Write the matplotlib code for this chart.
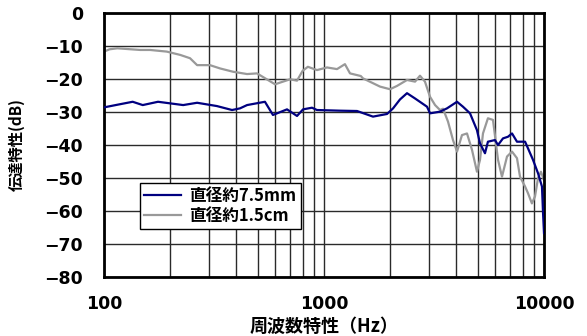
import matplotlib
matplotlib.use("Agg")
import matplotlib.pyplot as plt
from matplotlib.ticker import FixedLocator, NullFormatter

plt.rcParams['font.family'] = ['Noto Sans CJK JP', 'DejaVu Sans']

# 直径約7.5mm
freq_a = [100, 115, 135, 150, 176, 229, 265, 326, 382, 415, 447, 539, 586, 679, 754,
          803, 882, 929, 1183, 1413, 1670, 1934, 2060, 2215, 2384, 2593, 2940, 3034,
          3367, 3622, 4024, 4283, 4610, 4958, 5118, 5392, 5561, 5984, 6180, 6510,
          6858, 7156, 7537, 8203, 8457, 8913, 9397, 9790, 9900, 10000]
db_a = [-28.6, -27.8, -26.9, -27.9, -26.9, -27.9, -27.2, -28.2, -29.4, -28.9, -27.9,
        -26.9, -30.9, -29.2, -31.2, -29.2, -28.7, -29.4, -29.6, -29.7, -31.4, -30.6,
        -28.9, -26.2, -24.3, -25.9, -28.4, -30.4, -29.9, -28.9, -26.9, -28.4, -30.4,
        -35.5, -39.5, -42.5, -39.0, -38.5, -40.0, -38.0, -37.5, -36.5, -39.0, -39.0,
        -41.0, -44.5, -48.6, -52.6, -60.6, -66.7]

# 直径約1.5cm
freq_b = [100, 106, 115, 146, 162, 193, 222, 246, 265, 303, 337, 386, 447, 496, 599,
          700, 754, 800, 845, 929, 1032, 1146, 1245, 1313, 1470, 1503, 1797, 1995, 2147,
          2384, 2593, 2731, 2877, 3034, 3198, 3367, 3475, 3661, 3858, 4024, 4238,
          4467, 4708, 4958, 5118, 5280, 5561, 5863, 6180, 6442, 6790, 7156, 7537,
          7780, 8203, 8457, 8810, 9100, 9397, 9686, 10000]
db_b = [-11.7, -11.0, -10.7, -11.2, -11.2, -11.7, -12.7, -13.7, -15.8, -15.8, -16.8,
        -17.8, -18.5, -18.3, -21.6, -20.1, -20.5, -17.5, -16.3, -17.3, -16.5, -17.0,
        -15.5, -18.3, -19.1, -19.8, -22.3, -23.1, -22.1, -20.3, -20.8, -19.0, -20.8,
        -25.4, -27.9, -29.4, -29.0, -32.9, -38.5, -42.0, -37.0, -36.5, -41.5, -48.1,
        -44.5, -36.5, -31.9, -32.4, -44.5, -49.6, -43.5, -42.0, -44.0, -49.6, -52.6,
        -54.6, -57.7, -55.6, -50.0, -48.1, -50.6]

labels = ['直径約7.5mm', '直径約1.5cm']
xticks = [100, 1000, 10000]
xticklabels = ['100', '1000', '10000']
yticks = [0, -10, -20, -30, -40, -50, -60, -70, -80]
yticklabels = ['0', '−10', '−20', '−30', '−40', '−50', '−60', '−70', '−80']
minor_x = [m * d for d in (100, 1000) for m in range(2, 10)]

fig = plt.figure(figsize=(5.87, 3.36), dpi=100)
ax = fig.add_axes([104/587, 59/336, 440/587, 264/336])

ax.plot(freq_a, db_a, color='#000080', lw=1.6, label=labels[0], zorder=3)
ax.plot(freq_b, db_b, color='#999999', lw=1.6, label=labels[1], zorder=2)

ax.set_xscale('log')
ax.set_xlim(100, 10000)
ax.set_ylim(-80, 0)
ax.xaxis.set_major_locator(FixedLocator(xticks))
ax.xaxis.set_minor_locator(FixedLocator(minor_x))
ax.xaxis.set_minor_formatter(NullFormatter())
ax.set_xticks(xticks)
ax.set_xticklabels(xticklabels)
ax.set_yticks(yticks)
ax.set_yticklabels(yticklabels)

ax.grid(True, which='both', axis='x', color='#2a2a2a', lw=1.0)
ax.grid(True, which='major', axis='y', color='#2a2a2a', lw=1.0)

ax.tick_params(axis='both', which='both', length=0)
ax.tick_params(axis='y', pad=15)
ax.tick_params(axis='x', pad=13)
for lab in ax.get_xticklabels() + ax.get_yticklabels():
    lab.set_fontfamily('DejaVu Sans')
    lab.set_fontweight('bold')
    lab.set_fontsize(12.5)

for s in ax.spines.values():
    s.set_linewidth(2)
    s.set_color('black')

ax.set_xlabel('周波数特性（Hz）', fontsize=13, fontweight='bold', labelpad=3)
ax.set_ylabel('伝達特性(dB)', fontsize=11, fontweight='bold', labelpad=14)

leg = ax.legend(loc='lower left', bbox_to_anchor=(0.082, 0.18), frameon=True,
                fancybox=False, edgecolor='black', framealpha=1,
                prop={'weight': 'bold', 'size': 12}, handlelength=2.2,
                borderpad=0.25, labelspacing=0.15, handletextpad=0.5,
                borderaxespad=0)
leg.get_frame().set_linewidth(1)

fig.savefig('out.png', dpi=100)
